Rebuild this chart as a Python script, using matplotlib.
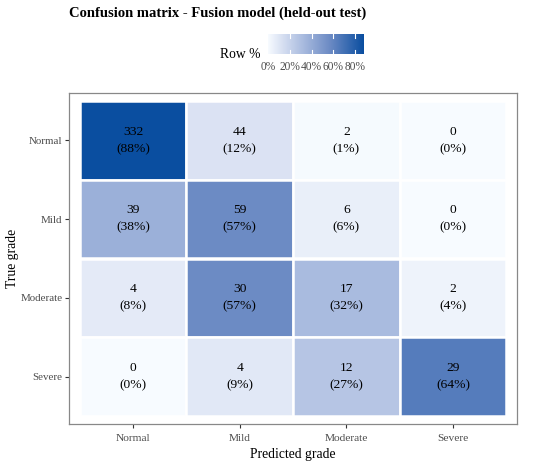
import numpy as np
import matplotlib
matplotlib.use("Agg")
import matplotlib.pyplot as plt
from matplotlib.colors import LinearSegmentedColormap, Normalize
from matplotlib.patches import Rectangle

plt.rcParams['font.family'] = ['Liberation Serif', 'DejaVu Serif']

grades = ["Normal", "Mild", "Moderate", "Severe"]
counts = [[332, 44, 2, 0],
          [39, 59, 6, 0],
          [4, 30, 17, 2],
          [0, 4, 12, 29]]
row_pct = [[88, 12, 1, 0],
           [38, 57, 6, 0],
           [8, 57, 32, 4],
           [0, 9, 27, 64]]
cbar_ticks = [0, 20, 40, 60, 80]
cbar_max = 88

cmap = LinearSegmentedColormap.from_list(
    "rowpct",
    [(0.0, "#F7FBFF"), (0.136, "#DAE2F3"), (0.43, "#9BB0D9"),
     (0.65, "#6B8AC4"), (1.0, "#0A4EA0")])
norm = Normalize(0, cbar_max)

fig = plt.figure(figsize=(5.5, 4.67), dpi=100)
W, H = 550, 467
ax = fig.add_axes([69 / W, 1 - 424 / H, 448 / W, 331 / H])

n = len(grades)
for i in range(n):
    for j in range(n):
        x = j + 1
        y = n - i
        ax.add_patch(Rectangle((x - 0.5, y - 0.5), 1, 1,
                               facecolor=cmap(norm(row_pct[i][j])),
                               edgecolor="white", linewidth=1.8))
        ax.text(x, y + 0.11, str(counts[i][j]), ha="center", va="center",
                fontsize=9.7, color="black")
        ax.text(x, y - 0.11, f"({row_pct[i][j]}%)", ha="center", va="center",
                fontsize=9.7, color="black")

ax.set_xlim(0.4, n + 0.6)
ax.set_ylim(0.4, n + 0.6)
ax.set_xticks(range(1, n + 1))
ax.set_xticklabels(grades)
ax.set_yticks(range(1, n + 1))
ax.set_yticklabels(grades[::-1])
ax.tick_params(axis="both", colors="#333333", labelcolor="#4d4d4d",
               labelsize=8.2, length=3, width=0.8)
ax.tick_params(axis="x", pad=4.5)
ax.tick_params(axis="y", pad=1.8, labelsize=7.9)
for s in ax.spines.values():
    s.set_color("#888888")
    s.set_linewidth(0.9)
ax.set_xlabel("Predicted grade", fontsize=9.8, labelpad=3.5)
ax.set_ylabel("True grade", fontsize=9.8)
ax.yaxis.set_label_coords((19 - 69) / 448, 0.5)

fig.text(69 / W, 1 - 13 / H, "Confusion matrix - Fusion model (held-out test)",
         fontsize=10.5, fontweight="bold", ha="left", va="center")

# colorbar
cax = fig.add_axes([268 / W, 1 - 54 / H, 96 / W, 20 / H])
grad = np.linspace(0, cbar_max, 256).reshape(1, -1)
cax.imshow(grad, aspect="auto", cmap=cmap, norm=norm,
           extent=[0, cbar_max, 0, 1])
for t in cbar_ticks[1:]:
    cax.plot([t, t], [0, 0.18], color="white", lw=0.8)
    cax.plot([t, t], [0.82, 1], color="white", lw=0.8)
cax.set_xlim(0, cbar_max)
cax.set_ylim(0, 1)
cax.set_yticks([])
cax.set_xticks(cbar_ticks)
cax.set_xticklabels([f"{t}%" for t in cbar_ticks])
cax.tick_params(axis="x", length=0, labelsize=8.3, labelcolor="#4d4d4d", pad=5.0)
for s in cax.spines.values():
    s.set_visible(False)
fig.text(260 / W, 1 - 54 / H, "Row %", fontsize=9.8, ha="right", va="center")

fig.savefig("out.png", dpi=100)
